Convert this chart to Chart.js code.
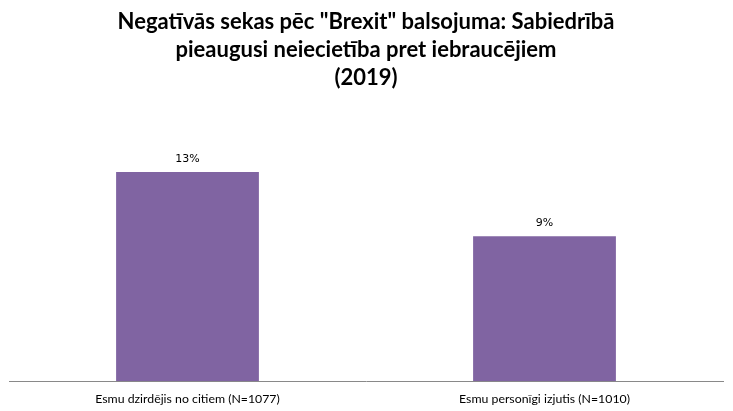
<!DOCTYPE html>
<html><head><meta charset="utf-8">
<script src="https://cdn.jsdelivr.net/npm/chart.js@4/dist/chart.umd.min.js"></script>
<style>html,body{margin:0;padding:0;background:#fff}#wrap{width:733px;height:411px}</style>
</head><body><div id="wrap"><canvas id="c" width="733" height="411"></canvas></div>
<script>
const categories = ["Esmu dzirdējis no citiem (N=1077)", "Esmu personīgi izjutis (N=1010)"];
const values = [13, 9];
const valueLabels = ["13%", "9%"];
const titleLines = ["Negatīvās sekas pēc \"Brexit\" balsojuma: Sabiedrībā", "pieaugusi neiecietība pret iebraucējiem", "(2019)"];

const labelPlugin = {
  id: 'valueLabels',
  afterDatasetsDraw(chart) {
    const ctx = chart.ctx;
    const meta = chart.getDatasetMeta(0);
    ctx.save();
    ctx.font = '11px "DejaVu Sans"';
    ctx.fillStyle = '#000';
    ctx.textAlign = 'center';
    ctx.textBaseline = 'middle';
    meta.data.forEach((bar, i) => {
      ctx.fillText(valueLabels[i], bar.x, bar.y - 13);
    });
    ctx.restore();
  }
};

new Chart(document.getElementById('c'), {
  type: 'bar',
  data: { labels: categories, datasets: [{ data: values, backgroundColor: '#8064A2', borderWidth: 0 }] },
  options: {
    responsive: false, animation: false,
    layout: { padding: { left: 9, right: 10, top: 0, bottom: -5 } },
    datasets: { bar: { categoryPercentage: 1, barPercentage: 0.4 } },
    plugins: {
      legend: { display: false }, tooltip: { enabled: false },
      title: { display: true, text: titleLines, color: '#000',
        font: { family: 'Lato', size: 22, weight: 'bold', lineHeight: 1.27 },
        padding: { top: 8, bottom: 64 } }
    },
    scales: {
      x: { grid: { display: false, drawTicks: false }, border: { display: true, color: '#898989', width: 1 },
        ticks: { color: '#000', font: { family: 'Lato', size: 12.3 }, padding: 10 } },
      y: { display: false, min: 0, max: 14 }
    }
  },
  plugins: [labelPlugin]
});
</script></body></html>
